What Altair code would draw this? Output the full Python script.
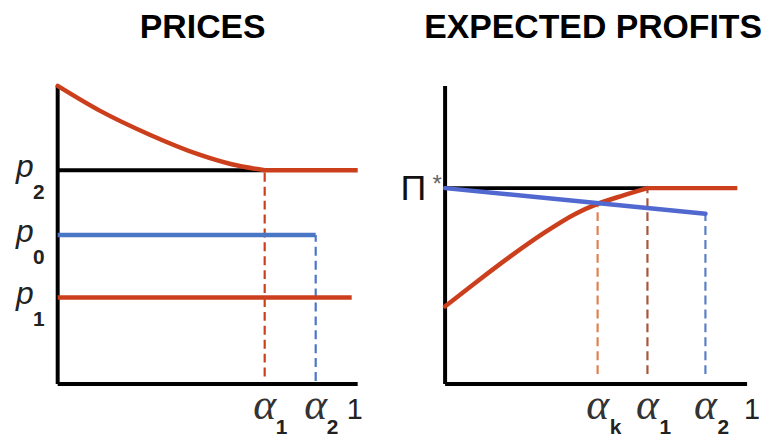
import altair as alt
import pandas as pd

# ---------------- data ----------------
# Left panel: PRICES  (x: 0..1 = alpha, y: 0..1 = price axis height)
L_p_names = ["2", "0", "1"]          # subscripts of p
L_p_levels = [0.717, 0.50, 0.29]     # p2, p0, p1
L_alpha1 = 0.69
L_alpha2 = 0.86
L_p1_end = 0.98
L_curve_x = [0.0, 0.14, 0.305, 0.47, 0.58, 0.69]
L_curve_y = [1.0, 0.917, 0.837, 0.77, 0.737, 0.717]
L_alpha_subs = ["1", "2"]

# Right panel: EXPECTED PROFITS
R_pi_star = 0.657
R_alpha_k = 0.505
R_alpha1 = 0.67
R_alpha2 = 0.862
R_blue_end = 0.571
R_line_end = 0.967
R_cross_y = 0.604
R_curve_x = [0.0, 0.105, 0.215, 0.325, 0.434, 0.505, 0.588, 0.67]
R_curve_y = [0.26, 0.343, 0.427, 0.505, 0.572, 0.604, 0.632, 0.657]
R_alpha_subs = ["k", "1", "2"]
dash_bottom = 0.033

RED = "#cc3f1c"
BLUE_L = "#4a76c6"
BLUE_R = "#5068cf"

# ---------------- scales ----------------
xsL = alt.Scale(domain=[-0.1656, 1.0662], nice=False, zero=False)
xsR = alt.Scale(domain=[-0.1809, 1.0362], nice=False, zero=False)
ys = alt.Scale(domain=[-0.1767, 1.11], nice=False, zero=False)

W_L, W_R, H = 372, 370, 386


def rules(rows, xs, color, width, dash=None):
    df = pd.DataFrame(rows, columns=["x", "x2", "y", "y2"])
    kw = dict(color=color, strokeWidth=width, strokeCap="butt")
    if dash:
        kw["strokeDash"] = dash
    return alt.Chart(df).mark_rule(**kw).encode(
        x=alt.X("x:Q", scale=xs, axis=None), x2="x2:Q",
        y=alt.Y("y:Q", scale=ys, axis=None), y2="y2:Q")


def curve(xv, yv, xs, color, width):
    df = pd.DataFrame({"x": xv, "y": yv})
    return alt.Chart(df).mark_line(color=color, strokeWidth=width,
                                   interpolate="monotone", strokeCap="round").encode(
        x=alt.X("x:Q", scale=xs, axis=None),
        y=alt.Y("y:Q", scale=ys, axis=None))


def texts(xv, yv, labels, xs, **kw):
    df = pd.DataFrame({"x": xv, "y": yv, "t": labels})
    return alt.Chart(df).mark_text(**kw).encode(
        x=alt.X("x:Q", scale=xs, axis=None),
        y=alt.Y("y:Q", scale=ys, axis=None),
        text="t:N")


title_kw = dict(fontSize=34, font="Liberation Sans", fontWeight="bold",
                color="black", offset=8, anchor="middle")

# ---------------- left panel ----------------
p2, p0, p1 = L_p_levels
left_layers = [
    rules([[0, 1, 0, 0], [0, 0, 0, 1]], xsL, "black", 4),
    rules([[0, L_alpha1, p2, p2]], xsL, "black", 4),
    rules([[L_alpha1, L_alpha1, 0.025, p2]], xsL, RED, 2.2, [9, 5]),
    rules([[L_alpha2, L_alpha2, 0.01, p0]], xsL, BLUE_L, 2.2, [9, 5]),
    rules([[L_alpha1, 1, p2, p2], [0, L_p1_end, p1, p1]], xsL, RED, 4.5),
    rules([[0, L_alpha2, p0, p0]], xsL, BLUE_L, 4.5),
    curve(L_curve_x, L_curve_y, xsL, RED, 4.5),
    texts([0] * 3, L_p_levels, ["p"] * 3, xsL, font="Liberation Sans",
          fontStyle="italic", fontSize=32, align="center", baseline="alphabetic",
          dx=-33, dy=7, color="#222"),
    texts([0] * 3, L_p_levels, L_p_names, xsL, font="Liberation Sans",
          fontWeight="bold", fontSize=21, align="center", baseline="alphabetic",
          dx=-19, dy=29, color="#222"),
    texts([L_alpha1, L_alpha2], [0, 0], ["α", "α"], xsL, font="Liberation Serif",
          fontStyle="italic", fontSize=44, align="center", baseline="alphabetic",
          dx=0, dy=35, color="#333"),
    texts([L_alpha1, L_alpha2], [0, 0], L_alpha_subs, xsL, font="Liberation Sans",
          fontWeight="bold", fontSize=21, align="center", baseline="alphabetic",
          dx=17, dy=50, color="#222"),
    texts([1], [0], ["1"], xsL, font="Liberation Sans", fontSize=29,
          align="center", baseline="alphabetic", dx=-3, dy=35, color="#222"),
]
left = alt.layer(*left_layers).properties(
    width=W_L, height=H, title=alt.TitleParams("PRICES", dx=10, **title_kw))

# ---------------- right panel ----------------
right_layers = [
    rules([[0, 1, 0, 0], [0, 0, 0, 1]], xsR, "black", 4),
    rules([[0, R_line_end, R_pi_star, R_pi_star]], xsR, "black", 4),
    rules([[R_alpha_k, R_alpha_k, dash_bottom, R_cross_y]], xsR, "#e0804f", 2.2, [9, 5]),
    rules([[R_alpha1, R_alpha1, dash_bottom, R_pi_star]], xsR, "#a8553a", 2.2, [9, 5]),
    rules([[R_alpha2, R_alpha2, dash_bottom, R_blue_end]], xsR, "#5b7fc4", 2.2, [9, 5]),
    rules([[R_alpha1, R_line_end, R_pi_star, R_pi_star]], xsR, RED, 4.5),
    curve(R_curve_x, R_curve_y, xsR, RED, 4.5),
    curve([0, R_alpha2], [R_pi_star, R_blue_end], xsR, BLUE_R, 4.5),
    texts([0], [R_pi_star], ["Π"], xsR, font="Liberation Sans Narrow, Liberation Sans",
          fontSize=36, align="center", baseline="alphabetic", dx=-32, dy=12, color="#111"),
    texts([0], [R_pi_star], ["*"], xsR, font="Liberation Sans",
          fontSize=24, align="center", baseline="alphabetic", dx=-8, dy=4, color="#666"),
    texts([R_alpha_k, R_alpha1, R_alpha2], [0, 0, 0], ["α", "α", "α"], xsR,
          font="Liberation Serif", fontStyle="italic", fontSize=44, align="center",
          baseline="alphabetic", dx=0, dy=35, color="#333"),
    texts([R_alpha_k, R_alpha1, R_alpha2], [0, 0, 0], R_alpha_subs, xsR,
          font="Liberation Sans", fontWeight="bold", fontSize=21, align="center",
          baseline="alphabetic", dx=18, dy=50, color="#222"),
    texts([1], [0], ["1"], xsR, font="Liberation Sans", fontSize=29,
          align="center", baseline="alphabetic", dx=5, dy=35, color="#222"),
]
right = alt.layer(*right_layers).properties(
    width=W_R, height=H, title=alt.TitleParams("EXPECTED PROFITS", dx=19, **title_kw))

chart = alt.hconcat(left, right, spacing=13).properties(
    padding={"top": 2, "left": 0, "right": 0, "bottom": 0}, background="white"
).configure_view(stroke=None)

chart.save("out.html", embed_options={"renderer": "svg", "actions": False})
